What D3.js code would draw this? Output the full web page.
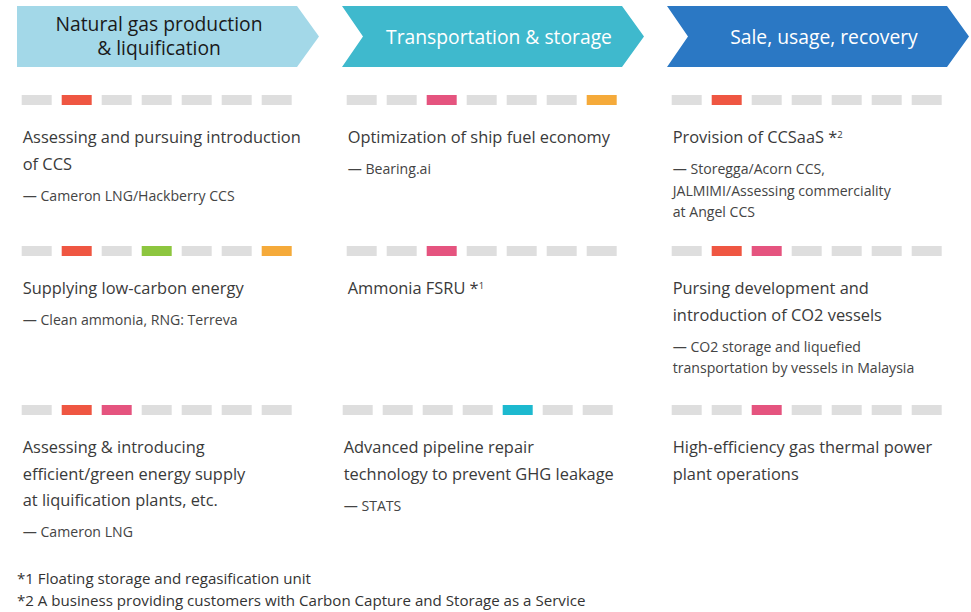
<!DOCTYPE html>
<html>
<head>
<meta charset="utf-8">
<script src="https://cdn.jsdelivr.net/npm/d3@7"></script>
<style>
  html, body { margin: 0; padding: 0; background: #fff; }
  svg { display: block; font-family: "Open Sans", "Noto Sans", sans-serif; }
</style>
</head>
<body>
<div id="chart"></div>
<script>
// Value chain stages (header arrows).
const stages = [
    ["Natural gas production", "& liquification"],
    ["Transportation & storage"],
    ["Sale, usage, recovery"]
];
const stageColors = ["#A3D8E8", "#3FB9CD", "#2B78C4"];
const stageTextColors = ["#1a1a1a", "#ffffff", "#ffffff"];

// Seven indicator slots; only the lit ones have a colour.
const slots = [0, 1, 2, 3, 4, 5, 6];
const slotColors = ["#DEDEDE", "#EF5642", "#E5547F", "#8DC63F", "#1DB9CF", "#DEDEDE", "#F5AA3A"];

// Initiatives, read column by column (stage), top to bottom.
const itemStage = [0, 0, 0, 1, 1, 1, 2, 2, 2];
const itemRow = [0, 1, 2, 0, 1, 2, 0, 1, 2];
const itemTitles = [
    ["Assessing and pursuing introduction", "of CCS"],
    ["Supplying low-carbon energy"],
    ["Assessing & introducing", "efficient/green energy supply", "at liquification plants, etc."],
    ["Optimization of ship fuel economy"],
    ["Ammonia FSRU *1"],
    ["Advanced pipeline repair", "technology to prevent GHG leakage"],
    ["Provision of CCSaaS *2"],
    ["Pursing development and", "introduction of CO2 vessels"],
    ["High-efficiency gas thermal power", "plant operations"]
];
const itemNotes = [
    ["— Cameron LNG/Hackberry CCS"],
    ["— Clean ammonia, RNG: Terreva"],
    ["— Cameron LNG"],
    ["— Bearing.ai"],
    [],
    ["— STATS"],
    ["— Storegga/Acorn CCS,", "JALMIMI/Assessing commerciality", "at Angel CCS"],
    ["— CO2 storage and liquefied", "transportation by vessels in Malaysia"],
    []
];
const itemSlots = [[1], [1, 3, 6], [1, 2], [2, 6], [2], [4], [1], [1, 2], [2]];

const footnotes = [
    "*1 Floating storage and regasification unit",
    "*2 A business providing customers with Carbon Capture and Storage as a Service"
];

function drawChart() {
    const width = 971, height = 612;

    const svg = d3.select("#chart")
        .append("svg")
        .attr("width", width)
        .attr("height", height);

    // Column positions for the three stages.
    const colX = d3.scaleBand()
        .domain(d3.range(stages.length))
        .range([17, 17 + 325 * stages.length]);

    // Indicator slots inside a column.
    const slotX = d3.scaleBand()
        .domain(slots)
        .range([0, 270])
        .paddingInner(0.25);

    // Row tops (indicator bar y).
    const rowY = d3.scaleOrdinal()
        .domain([0, 1, 2])
        .range([95, 246, 405]);

    // Header arrows.
    const top = 6, bottom = 67, body = 280, tip = 22, notch = 21;
    const mid = (top + bottom) / 2;
    const headers = svg.selectAll(".stage")
        .data(stages)
        .join("g")
        .attr("class", "stage")
        .attr("transform", (d, i) => `translate(${colX(i)},0)`);

    headers.append("path")
        .attr("d", (d, i) => {
            const p = d3.path();
            p.moveTo(0, top);
            p.lineTo(body, top);
            p.lineTo(body + tip, mid);
            p.lineTo(body, bottom);
            p.lineTo(0, bottom);
            if (i > 0) p.lineTo(notch, mid);
            p.closePath();
            return p.toString();
        })
        .attr("fill", (d, i) => stageColors[i]);

    headers.append("text")
        .attr("text-anchor", "middle")
        .attr("font-size", 19.3)
        .attr("fill", (d, i) => stageTextColors[i])
        .attr("x", (d, i) => i === 0 ? 142 : 157)
        .selectAll("tspan")
        .data(d => d)
        .join("tspan")
        .attr("x", function () { return this.parentNode.getAttribute("x"); })
        .attr("y", (d, j, nodes) => nodes.length === 1 ? 44 : 31 + j * 24)
        .text(d => d);

    // Initiative cells.
    const cells = svg.selectAll(".cell")
        .data(d3.range(itemTitles.length))
        .join("g")
        .attr("class", "cell")
        .attr("transform", i => {
            const shift = (itemStage[i] === 1 && itemRow[i] === 2) ? -4 : 0;
            return `translate(${colX(itemStage[i]) + 4.7 + shift},${rowY(itemRow[i])})`;
        });

    cells.selectAll("rect")
        .data(i => slots.map(s => ({ slot: s, on: itemSlots[i].includes(s) })))
        .join("rect")
        .attr("x", d => slotX(d.slot))
        .attr("y", 0)
        .attr("width", slotX.bandwidth())
        .attr("height", 10)
        .attr("fill", d => d.on ? slotColors[d.slot] : "#DEDEDE");

    const titleLine = 26.5, noteGap = 31, noteLine = 21.5;

    cells.each(function (i) {
        const g = d3.select(this);
        const x = 1;
        itemTitles[i].forEach((line, j) => {
            const t = g.append("text")
                .attr("x", x)
                .attr("y", 48 + j * titleLine)
                .attr("font-size", 16.4)
                .attr("fill", "#3a3a3a");
            const m = line.match(/^(.*\*)(\d)$/);
            if (m) {
                t.append("tspan").text(m[1]);
                t.append("tspan")
                    .attr("font-size", 9.5)
                    .attr("dy", -5)
                    .text(m[2]);
            } else {
                t.text(line);
            }
        });
        const lastTitle = 48 + (itemTitles[i].length - 1) * titleLine;
        itemNotes[i].forEach((line, j) => {
            g.append("text")
                .attr("x", x)
                .attr("y", lastTitle + noteGap + j * noteLine)
                .attr("font-size", 14.1)
                .attr("fill", "#444444")
                .text(line);
        });
    });

    // Footnotes.
    svg.selectAll(".footnote")
        .data(footnotes)
        .join("text")
        .attr("class", "footnote")
        .attr("x", 17)
        .attr("y", (d, i) => 584 + i * 22)
        .attr("font-size", 15.1)
        .attr("fill", "#333333")
        .text(d => d);
}

drawChart();
</script>
</body>
</html>
